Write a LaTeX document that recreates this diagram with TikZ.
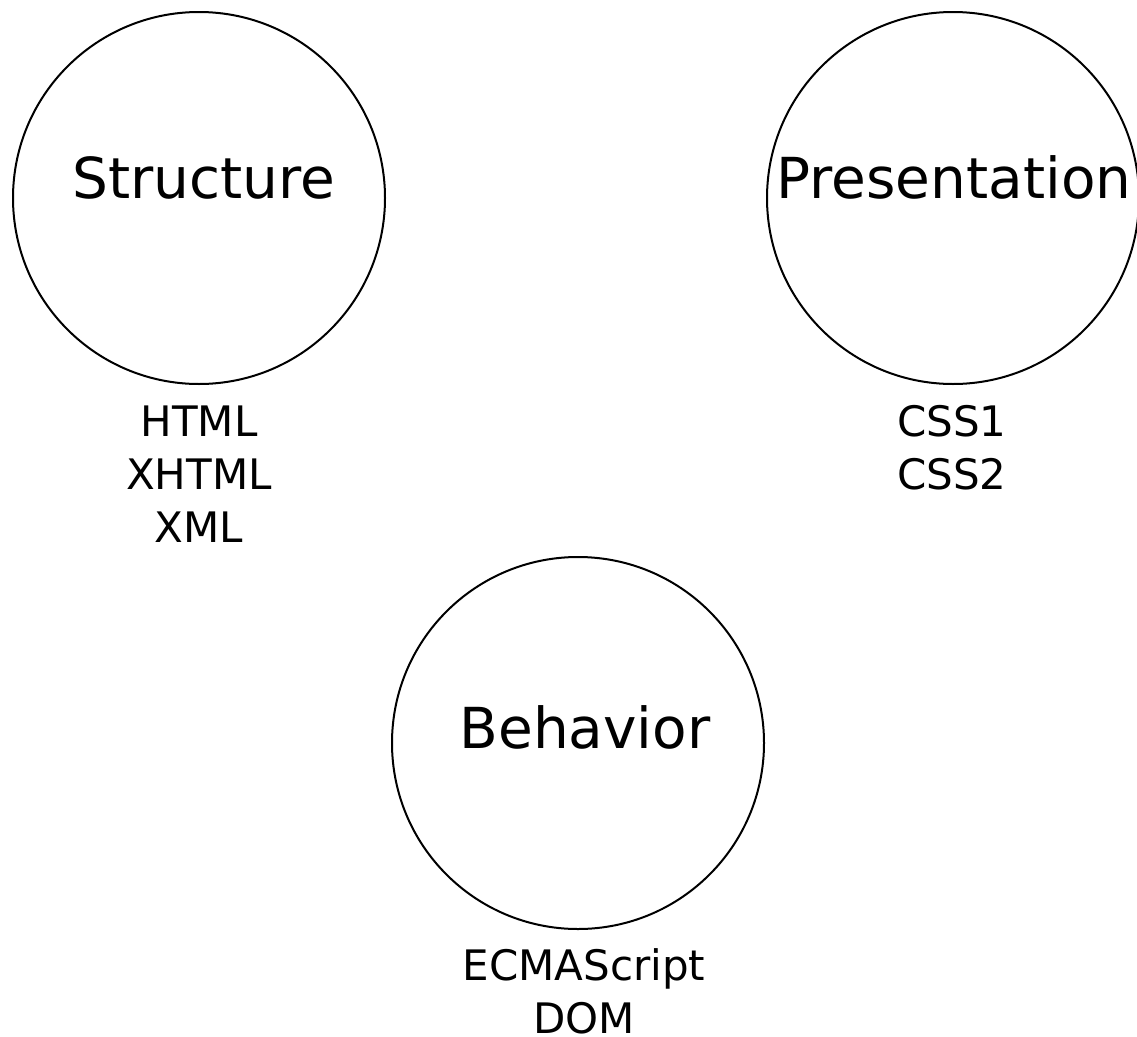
\documentclass[tikz,border=0pt]{standalone}
\usepackage{fontspec}
\setmainfont{DejaVu Sans}
\begin{document}
\begin{tikzpicture}[x=1pt,y=-1pt,
  ring/.style={circle,draw,line width=2pt,minimum size=372pt,inner sep=0pt},
  bigtxt/.style={anchor=base,inner sep=0pt,font=\fontsize{56.5}{66}\selectfont},
  smalltxt/.style={anchor=base,inner sep=0pt,font=\fontsize{42}{54}\selectfont}]
\useasboundingbox (0,0) rectangle (1137,1036);
\node[ring] (s) at (199,198) {};
\node[ring] (p) at (953,198) {};
\node[ring] (b) at (578,743) {};
\node[bigtxt] (st) at (204,198) {Structure};
\node[bigtxt] (pt) at (954,198) {Presentation};
\node[bigtxt] (bt) at (585,748) {Behavior};
\node[smalltxt] (s1) at (199,436) {HTML};
\node[smalltxt] (s2) at (199,489) {XHTML};
\node[smalltxt] (s3) at (199,542) {XML};
\node[smalltxt] (p1) at (952,436) {CSS1};
\node[smalltxt] (p2) at (952,489) {CSS2};
\node[smalltxt] (b1) at (584,980) {ECMAScript};
\node[smalltxt] (b2) at (584,1033) {DOM};
\end{tikzpicture}
\end{document}
